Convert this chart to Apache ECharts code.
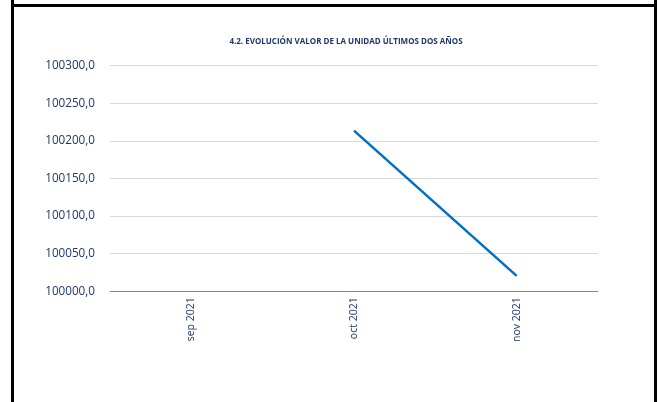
<!DOCTYPE html>
<html>
<head>
<meta charset="utf-8">
<script src="https://cdn.jsdelivr.net/npm/echarts@6/dist/echarts.min.js"></script>
<style>
html,body{margin:0;padding:0;background:#fff;}
#c{width:659px;height:402px;}
</style>
</head>
<body>
<div id="c"></div>
<script>
var categories = ['sep 2021', 'oct 2021', 'nov 2021'];
var values = [null, 100213.6, 100020.6];
var yTicks = { min: 100000, max: 100300, step: 50 };
var titleText = '4.2. EVOLUCIÓN VALOR DE LA UNIDAD ÚLTIMOS DOS AÑOS';

var chart = echarts.init(document.getElementById('c'), null, { renderer: 'canvas' });
var textColor = '#1F3864';
chart.setOption({
  animation: false,
  backgroundColor: '#ffffff',
  title: {
    text: titleText,
    left: 341, top: 33, textAlign: 'center',
    textStyle: { fontFamily: 'Open Sans', fontWeight: 'bold', fontSize: 8, color: textColor }
  },
  graphic: [
    { type: 'rect', shape: { x: 11, y: 0, width: 3, height: 402 }, style: { fill: '#000' } },
    { type: 'rect', shape: { x: 654, y: 0, width: 3, height: 402 }, style: { fill: '#000' } },
    { type: 'rect', shape: { x: 11, y: 4, width: 646, height: 3 }, style: { fill: '#000' } }
  ],
  grid: { left: 110, right: 61, top: 65.7, bottom: 110.7, containLabel: false },
  xAxis: {
    type: 'category',
    data: categories,
    boundaryGap: true,
    axisLine: { lineStyle: { color: '#898989', width: 1 } },
    axisTick: { show: false },
    axisLabel: { rotate: 90, margin: 6, fontFamily: 'Open Sans', fontSize: 10.5, color: textColor },
    splitLine: { show: false }
  },
  yAxis: {
    type: 'value',
    min: yTicks.min, max: yTicks.max, interval: yTicks.step,
    axisLine: { show: false },
    axisTick: { show: false },
    axisLabel: {
      margin: 15, fontFamily: 'Open Sans', fontSize: 11.7, color: textColor,
      formatter: function (v) { return v.toFixed(1).replace('.', ','); }
    },
    splitLine: { lineStyle: { color: '#d9d9d9', width: 1 } }
  },
  series: [{
    type: 'line',
    data: values,
    showSymbol: false,
    symbol: 'none',
    connectNulls: false,
    lineStyle: { color: '#0070C0', width: 2.5 }
  }]
});
</script>
</body>
</html>
